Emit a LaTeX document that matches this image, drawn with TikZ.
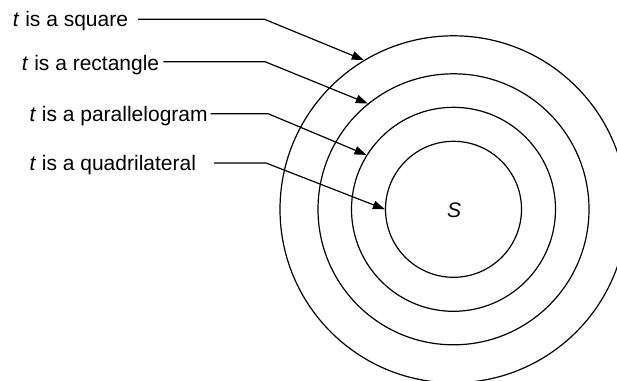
\documentclass[tikz,border=0pt]{standalone}
\usepackage{fontspec}
\setmainfont{Liberation Sans}
\usetikzlibrary{arrows.meta}
\tikzset{
  lbl/.style={anchor=base west, inner sep=0pt, font=\fontsize{21}{25}\selectfont},
  ring/.style={circle, draw, line width=1.2pt, inner sep=0pt, minimum size=#1},
  ptr/.style={line width=1.2pt, -{Triangle[length=12pt,width=8.5pt]}},
}
\begin{document}
\begin{tikzpicture}[x=1pt,y=-1pt]
\useasboundingbox (0,0) rectangle (617,380);
\clip (0,0) rectangle (617,380);
\coordinate (ctr) at (453.5,209.3);
\node[ring=347pt] (c4) at (ctr) {};
\node[ring=271pt] (c3) at (ctr) {};
\node[ring=204pt] (c2) at (ctr) {};
\node[ring=136pt] (c1) at (ctr) {};
\node[inner sep=0pt, font=\fontsize{21}{25}\selectfont\itshape] (s) at (454,210) {S};

\node[lbl] (l1) at (12.7,26.7) {\textit{t} is a square};
\node[lbl] (l2) at (21.7,70.7) {\textit{t} is a rectangle};
\node[lbl] (l3) at (29.3,121.2) {\textit{t} is a parallelogram};
\node[lbl] (l4) at (29.3,170) {\textit{t} is a quadrilateral};

\coordinate (a1) at (138,19.3);   \coordinate (b1) at (264.5,19.3);
\coordinate (a2) at (163.3,61.7); \coordinate (b2) at (265,61.7);
\coordinate (a3) at (210.7,113.8);\coordinate (b3) at (268.3,113.8);
\coordinate (a4) at (214,163);    \coordinate (b4) at (266,163);

\draw[ptr] (a1) -- (b1) -- (c4.121.9);
\draw[ptr] (a2) -- (b2) -- (c3.129.4);
\draw[ptr] (a3) -- (b3) -- (c2.148);
\draw[ptr] (a4) -- (b4) -- (c1.180);
\end{tikzpicture}
\end{document}
